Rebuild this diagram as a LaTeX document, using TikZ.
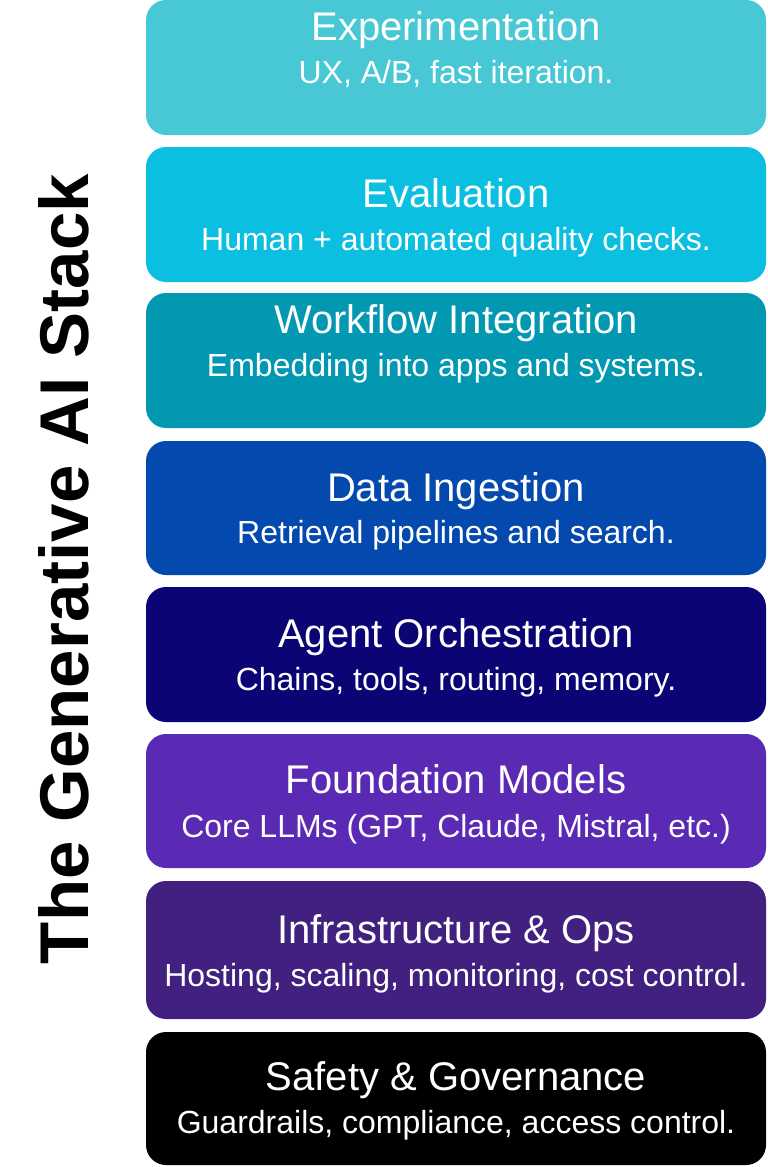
\documentclass[tikz,border=0pt]{standalone}
\usepackage{fontspec}
\setmainfont{Liberation Sans}
\definecolor{cExp}{HTML}{48C8D5}
\definecolor{cEval}{HTML}{0ABFE0}
\definecolor{cWork}{HTML}{0298B2}
\definecolor{cData}{HTML}{0449AE}
\definecolor{cAgent}{HTML}{0B0475}
\definecolor{cFound}{HTML}{5B2AB5}
\definecolor{cInfra}{HTML}{41207F}
\definecolor{cSafe}{HTML}{000000}
\tikzset{
  layer/.style={rounded corners=20pt, inner sep=0pt, outer sep=0pt, minimum width=620pt, anchor=north west},
  ttl/.style={text=white, anchor=base, inner sep=0pt, font=\fontsize{40}{44}\selectfont},
  sub/.style={text=white, anchor=base, inner sep=0pt, font=\fontsize{32}{36}\selectfont},
  vtitle/.style={text=black, anchor=base, rotate=90, inner sep=0pt, font=\fontsize{69}{72}\selectfont\bfseries}
}
\begin{document}
\begin{tikzpicture}[x=1pt,y=-1pt]
\useasboundingbox (0,0) rectangle (768,1167);
% boxes: (top, bottom)
\node[layer, fill=cExp,   minimum height=135pt] (b1) at (146,0) {};
\node[layer, fill=cEval,  minimum height=135pt] (b2) at (146,147) {};
\node[layer, fill=cWork,  minimum height=135pt] (b3) at (146,293) {};
\node[layer, fill=cData,  minimum height=134pt] (b4) at (146,441) {};
\node[layer, fill=cAgent, minimum height=135pt] (b5) at (146,587) {};
\node[layer, fill=cFound, minimum height=134pt] (b6) at (146,734) {};
\node[layer, fill=cInfra, minimum height=138pt] (b7) at (146,881) {};
\node[layer, fill=cSafe,  minimum height=133pt] (b8) at (146,1032) {};
% texts
\node[ttl] (t1) at (456,40) {Experimentation};
\node[sub] (s1) at (456,83) {UX, A/B, fast iteration.};
\node[ttl] (t2) at (456,207) {Evaluation};
\node[sub] (s2) at (456,250) {Human + automated quality checks.};
\node[ttl] (t3) at (456,333) {Workflow Integration};
\node[sub] (s3) at (456,376) {Embedding into apps and systems.};
\node[ttl] (t4) at (456,501) {Data Ingestion};
\node[sub] (s4) at (456,543) {Retrieval pipelines and search.};
\node[ttl] (t5) at (456,647) {Agent Orchestration};
\node[sub] (s5) at (456,690) {Chains, tools, routing, memory.};
\node[ttl] (t6) at (456,793) {Foundation Models};
\node[sub] (s6) at (456,837) {Core LLMs (GPT, Claude, Mistral, etc.)};
\node[ttl] (t7) at (456,943) {Infrastructure \& Ops};
\node[sub] (s7) at (456,986) {Hosting, scaling, monitoring, cost control.};
\node[ttl] (t8) at (456,1090) {Safety \& Governance};
\node[sub] (s8) at (456,1133) {Guardrails, compliance, access control.};
% vertical title
\node[vtitle] (vt) at (88,569) {The Generative AI Stack};
\end{tikzpicture}
\end{document}
